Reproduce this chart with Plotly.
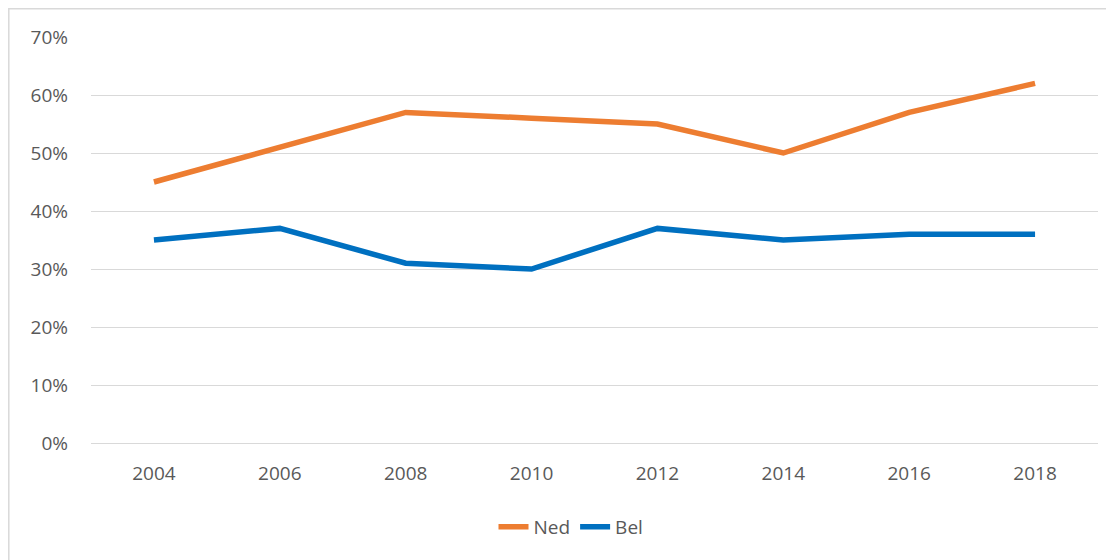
import plotly.graph_objects as go

years = ["2004", "2006", "2008", "2010", "2012", "2014", "2016", "2018"]
ned = [45, 51, 57, 56, 55, 50, 57, 62]
bel = [35, 37, 31, 30, 37, 35, 36, 36]
y_ticks = [0, 10, 20, 30, 40, 50, 60, 70]
y_labels = [f"{v}%" for v in y_ticks]

OFF = 8  # default body margin of the html page
W, H = 1114 - OFF, 560 - OFF
# plot area in screen pixels: x 91..1098, y 37..443
L, R, T, B = 91 - OFF, 1114 - 1098, 37 - OFF, 560 - 443
pw, ph = W - L - R, H - T - B

def px_x(x):
    return (x - OFF - L) / pw

def px_y(y):
    return (443 - y) / ph

fig = go.Figure()
fig.add_trace(go.Scatter(x=years, y=ned, name="Ned", mode="lines",
                         line=dict(color="#ED7D31", width=5.5)))
fig.add_trace(go.Scatter(x=years, y=bel, name="Bel", mode="lines",
                         line=dict(color="#0070C0", width=5.5)))

fig.update_layout(
    width=W, height=H,
    margin=dict(l=L, r=R, t=T, b=B),
    paper_bgcolor="white", plot_bgcolor="white",
    font=dict(family="Open Sans, Carlito, sans-serif", size=19, color="#595959"),
    showlegend=True,
    legend=dict(orientation="h", x=px_x(571), xanchor="center",
                y=px_y(527), yanchor="middle", font=dict(size=19, color="#595959"),
                traceorder="normal"),
    xaxis=dict(type="category", range=[-0.5, 7.5], showgrid=False, showline=False,
               zeroline=False, ticks="", ticklabelstandoff=17,
               tickfont=dict(size=19, color="#595959")),
    yaxis=dict(range=[0, 70], tickvals=y_ticks, ticktext=y_labels, showgrid=True,
               gridcolor="#D9D9D9", gridwidth=1.3, zeroline=True, zerolinecolor="#D9D9D9",
               zerolinewidth=1.3, showline=False,
               ticks="", ticklabelstandoff=22, tickfont=dict(size=19, color="#595959")),
    shapes=[dict(type="rect", xref="paper", yref="paper",
                 x0=px_x(8.8), x1=px_x(1112), y0=px_y(575), y1=px_y(8.8),
                 line=dict(color="#D9D9D9", width=1.5), fillcolor="rgba(0,0,0,0)",
                 layer="below")],
)

fig.write_html("out.html")
